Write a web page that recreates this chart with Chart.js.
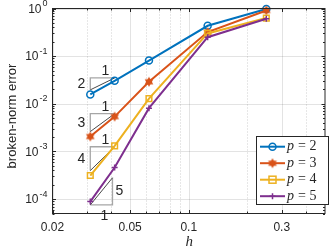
<!DOCTYPE html>
<html>
<head>
<meta charset="utf-8">
<script src="https://cdn.jsdelivr.net/npm/chart.js@4.4.1/dist/chart.umd.min.js"></script>
<style>
    html, body { margin: 0; padding: 0; background: #fff; }
    canvas { display: block; }
</style>
</head>
<body>
<canvas id="errChart" width="332" height="251"></canvas>
<script>
// ---- data ----
const hValues = [1/32, 1/24, 1/16, 1/8, 1/4];
const errP2 = [0.0157, 0.0304, 0.081, 0.434, 0.98];
const errP3 = [0.00206, 0.0054, 0.029, 0.32, 0.91];
const errP4 = [0.000313, 0.00131, 0.0129, 0.30, 0.63];
const errP5 = [0.000089, 0.00046, 0.0081, 0.25, 0.61];
const seriesNames = ['2', '3', '4', '5'];

const xTickLabels = [0.02, 0.05, 0.1, 0.3];
const xMinorTicks = [0.03, 0.04, 0.06, 0.07, 0.08, 0.09, 0.2, 0.4];
const yDecades = [-4, -3, -2, -1, 0];

const AXIS = '#262626';
const colors = ['#0072BD', '#D95319', '#EDB120', '#7E2F8E'];
const SANS = '"Liberation Sans", Arial, Helvetica, sans-serif';
const SERIF = '"Liberation Serif", "Times New Roman", serif';

function hexagram(r, color) {
    const s = Math.ceil(2 * r + 2);
    const c = document.createElement('canvas');
    c.width = c.height = s;
    const g = c.getContext('2d');
    g.fillStyle = color;
    [-90, 90].forEach(a0 => {
        g.beginPath();
        for (let k = 0; k < 3; k++) {
            const a = (a0 + k * 120) * Math.PI / 180;
            g.lineTo(s / 2 + r * Math.cos(a), s / 2 + r * Math.sin(a));
        }
        g.closePath();
        g.fill();
    });
    return c;
}
const hexImg = hexagram(5, colors[1]);

const pts = ys => hValues.map((h, i) => ({ x: h, y: ys[i] }));

// slope triangles, anchored near the first two points of each curve
function triangle(p, errs, f, hRight, below) {
    const h1 = hValues[0];
    const yb = errs[0] * f;
    const yt = yb * Math.pow(hRight / h1, p);
    return {
        p, h1, hRight, yb, yt, below,
        legs: below ? [{ x: h1, y: yb }, { x: hRight, y: yb }, { x: hRight, y: yt }]
                    : [{ x: h1, y: yb }, { x: h1, y: yt }, { x: hRight, y: yt }],
        hyp: [{ x: h1, y: yb }, { x: hRight, y: yt }]
    };
}
const triangles = [
    triangle(2, errP2, 1.25, hValues[1], false),
    triangle(3, errP3, 1.27, hValues[1], false),
    triangle(4, errP4, 1.27, hValues[1], false),
    triangle(5, errP5, 0.85, hValues[0] * 1.3, true)
];

const triSets = [];
triangles.forEach(t => {
    triSets.push({ data: t.legs, borderColor: '#a6a6a6', borderWidth: 1.3, pointRadius: 0, order: 10, tension: 0 });
    triSets.push({ data: t.hyp, borderColor: '#1a1a1a', borderWidth: 0.8, pointRadius: 0, order: 9, tension: 0 });
});

const series = [
    { data: pts(errP2), borderColor: colors[0], backgroundColor: 'rgba(0,0,0,0)', pointStyle: 'circle', pointRadius: 3.5, pointBorderWidth: 1.5, order: 4 },
    { data: pts(errP3), borderColor: colors[1], backgroundColor: colors[1], pointStyle: hexImg, pointRadius: 5, order: 3 },
    { data: pts(errP4), borderColor: colors[2], backgroundColor: 'rgba(0,0,0,0)', pointStyle: 'rect', pointRadius: 4, pointBorderWidth: 1.5, order: 2 },
    { data: pts(errP5), borderColor: colors[3], backgroundColor: colors[3], pointStyle: 'cross', pointRadius: 3, pointBorderWidth: 1.5, order: 1 }
].map(s => Object.assign({ borderWidth: 2, tension: 0, clip: 6 }, s));

function drawLegendMarker(ctx, i, x, y) {
    ctx.save();
    ctx.strokeStyle = colors[i];
    ctx.fillStyle = colors[i];
    ctx.lineWidth = 1.5;
    if (i === 0) { ctx.beginPath(); ctx.arc(x, y, 3.5, 0, 2 * Math.PI); ctx.stroke(); }
    if (i === 1) { ctx.drawImage(hexImg, x - hexImg.width / 2, y - hexImg.height / 2); }
    if (i === 2) { ctx.strokeRect(x - 3.5, y - 3.5, 7, 7); }
    if (i === 3) {
        ctx.beginPath();
        ctx.moveTo(x - 3, y); ctx.lineTo(x + 3, y);
        ctx.moveTo(x, y - 3); ctx.lineTo(x, y + 3);
        ctx.stroke();
    }
    ctx.restore();
}

const matlabAxes = {
    id: 'matlabAxes',
    beforeDatasetsDraw(chart) {
        const { ctx, chartArea: a, scales: { x, y } } = chart;
        ctx.save();
        ctx.lineWidth = 1;
        ctx.strokeStyle = 'rgba(38,38,38,0.22)';
        ctx.setLineDash([1, 2]);
        xMinorTicks.forEach(v => {
            const px = Math.round(x.getPixelForValue(v)) + 0.5;
            ctx.beginPath(); ctx.moveTo(px, a.top); ctx.lineTo(px, a.bottom); ctx.stroke();
        });
        ctx.setLineDash([]);
        ctx.strokeStyle = 'rgba(38,38,38,0.13)';
        xTickLabels.forEach(v => {
            const px = Math.round(x.getPixelForValue(v)) + 0.5;
            ctx.beginPath(); ctx.moveTo(px, a.top); ctx.lineTo(px, a.bottom); ctx.stroke();
        });
        yDecades.forEach(n => {
            const py = Math.round(y.getPixelForValue(Math.pow(10, n))) + 0.5;
            ctx.beginPath(); ctx.moveTo(a.left, py); ctx.lineTo(a.right, py); ctx.stroke();
        });
        ctx.restore();
    },
    afterDatasetsDraw(chart) {
        const { ctx, chartArea: a, scales: { x, y } } = chart;
        ctx.save();
        // box and inward ticks
        ctx.strokeStyle = AXIS;
        ctx.lineWidth = 1;
        ctx.strokeRect(a.left, a.top, a.right - a.left, a.bottom - a.top);
        ctx.beginPath();
        const xt = (v, len) => {
            const px = Math.round(x.getPixelForValue(v)) + 0.5;
            ctx.moveTo(px, a.bottom); ctx.lineTo(px, a.bottom - len);
            ctx.moveTo(px, a.top); ctx.lineTo(px, a.top + len);
        };
        xTickLabels.forEach(v => xt(v, 3.5));
        xMinorTicks.forEach(v => xt(v, 2));
        const yt = (v, len) => {
            const py = Math.round(y.getPixelForValue(v)) + 0.5;
            ctx.moveTo(a.left, py); ctx.lineTo(a.left + len, py);
            ctx.moveTo(a.right, py); ctx.lineTo(a.right - len, py);
        };
        yDecades.forEach(n => {
            yt(Math.pow(10, n), 3.5);
            for (let m = 2; m <= 9; m++) if (n < 0) yt(m * Math.pow(10, n), 2);
        });
        yt(5e-5, 2); yt(6e-5, 2); yt(7e-5, 2); yt(8e-5, 2); yt(9e-5, 2);
        ctx.stroke();

        // tick labels
        ctx.fillStyle = AXIS;
        ctx.font = '12px ' + SANS;
        ctx.textAlign = 'center';
        ctx.textBaseline = 'middle';
        xTickLabels.forEach(v => ctx.fillText(String(v), x.getPixelForValue(v), a.bottom + 14));
        yDecades.forEach(n => {
            const py = y.getPixelForValue(Math.pow(10, n));
            const exp = n === 0 ? '0' : '-' + (-n);
            ctx.font = '9px ' + SANS;
            const we = ctx.measureText(exp).width;
            ctx.textAlign = 'left';
            const right = a.left - 5;
            ctx.fillText(exp, right - we, py - 5);
            ctx.font = '12px ' + SANS;
            ctx.textAlign = 'right';
            ctx.fillText('10', right - we - 1, py + 1);
        });

        // axis titles
        ctx.save();
        ctx.translate(12, (a.top + a.bottom) / 2 + 5);
        ctx.rotate(-Math.PI / 2);
        ctx.textAlign = 'center';
        ctx.font = '13px ' + SANS;
        ctx.fillText('broken-norm error', 0, 0);
        ctx.restore();
        ctx.font = 'italic 15px ' + SERIF;
        ctx.textAlign = 'center';
        ctx.fillText('h', (a.left + a.right) / 2 + 0.5, 242);

        // slope labels
        ctx.font = '14px ' + SANS;
        triangles.forEach(t => {
            const x1 = x.getPixelForValue(t.h1), x2 = x.getPixelForValue(t.hRight);
            const yb = y.getPixelForValue(t.yb), ytp = y.getPixelForValue(t.yt);
            ctx.textAlign = 'center';
            if (!t.below) {
                ctx.fillText(String(t.p), x1 - 9, (yb + ytp) / 2);
                ctx.fillText('1', (x1 + x2) / 2 + 3, ytp - 7);
            } else {
                ctx.fillText(String(t.p), x2 + 7, (yb + ytp) / 2);
                ctx.fillText('1', (x1 + x2) / 2 + 3, yb + 11);
            }
        });

        // legend
        const lx = 256.5, ly = 136.5, lw = 72, lh = 68;
        ctx.fillStyle = '#fff';
        ctx.fillRect(lx, ly, lw, lh);
        ctx.strokeStyle = AXIS;
        ctx.strokeRect(lx, ly, lw, lh);
        seriesNames.forEach((name, i) => {
            const ry = 146.7 + i * 16.5;
            ctx.strokeStyle = colors[i];
            ctx.lineWidth = 2;
            ctx.beginPath(); ctx.moveTo(260, ry); ctx.lineTo(285, ry); ctx.stroke();
            drawLegendMarker(ctx, i, 272.5, ry);
            ctx.fillStyle = AXIS;
            ctx.textAlign = 'left';
            ctx.font = 'italic 14px ' + SERIF;
            ctx.fillText('p', 287, ry);
            ctx.font = '14px ' + SERIF;
            ctx.fillText('= ' + name, 298, ry);
        });
        ctx.restore();
    }
};

new Chart(document.getElementById('errChart'), {
    type: 'line',
    data: { datasets: triSets.concat(series) },
    options: {
        responsive: false,
        animation: false,
        devicePixelRatio: 1,
        layout: { padding: { left: 52.5, right: 1.5, top: 8.5, bottom: 37.5 } },
        plugins: { legend: { display: false }, tooltip: { enabled: false } },
        scales: {
            x: { type: 'logarithmic', min: 0.02, max: 0.5, display: false },
            y: { type: 'logarithmic', min: 5e-5, max: 1, display: false }
        }
    },
    plugins: [matlabAxes]
});
</script>
</body>
</html>
